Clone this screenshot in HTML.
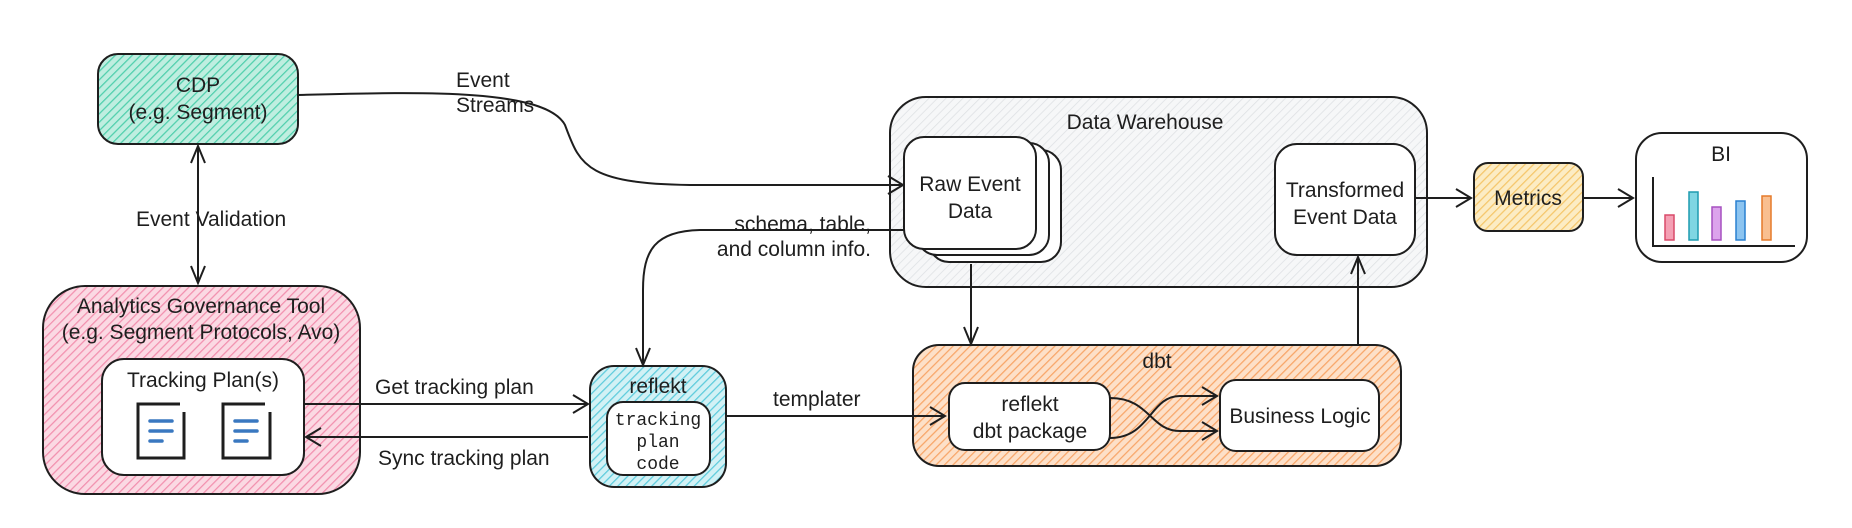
<!DOCTYPE html>
<html><head><meta charset="utf-8"><style>
html,body{margin:0;padding:0;background:#fff;}
svg{display:block;}
text{font-family:"Liberation Sans",sans-serif;font-size:21px;fill:#1e1e1e;}
</style></head><body>
<svg width="1852" height="528" viewBox="0 0 1852 528" xmlns="http://www.w3.org/2000/svg">
<defs>
<pattern id="pTeal" width="6" height="6" patternUnits="userSpaceOnUse" patternTransform="rotate(45)"><rect width="6" height="6" fill="#bfeee0"/><line x1="0" y1="0" x2="0" y2="6" stroke="#4fcfac" stroke-width="2.5"/></pattern>
<pattern id="pPink" width="6" height="6" patternUnits="userSpaceOnUse" patternTransform="rotate(45)"><rect width="6" height="6" fill="#fbd9e3"/><line x1="0" y1="0" x2="0" y2="6" stroke="#f28fae" stroke-width="2.5"/></pattern>
<pattern id="pCyan" width="6" height="6" patternUnits="userSpaceOnUse" patternTransform="rotate(45)"><rect width="6" height="6" fill="#d2f1f5"/><line x1="0" y1="0" x2="0" y2="6" stroke="#5ccbdc" stroke-width="2.5"/></pattern>
<pattern id="pGray" width="6" height="6" patternUnits="userSpaceOnUse" patternTransform="rotate(45)"><rect width="6" height="6" fill="#f6f7f8"/><line x1="0" y1="0" x2="0" y2="6" stroke="#dde0e3" stroke-width="1.5"/></pattern>
<pattern id="pOrange" width="6" height="6" patternUnits="userSpaceOnUse" patternTransform="rotate(45)"><rect width="6" height="6" fill="#fde0c8"/><line x1="0" y1="0" x2="0" y2="6" stroke="#f8a567" stroke-width="2.5"/></pattern>
<pattern id="pYellow" width="6" height="6" patternUnits="userSpaceOnUse" patternTransform="rotate(45)"><rect width="6" height="6" fill="#fcecc4"/><line x1="0" y1="0" x2="0" y2="6" stroke="#f5c66a" stroke-width="2.5"/></pattern>
</defs>
<g stroke="#1e1e1e" stroke-width="2" fill="none">
<rect x="98" y="54" width="200" height="90" rx="20" fill="url(#pTeal)"/>
<rect x="43" y="286" width="317" height="208" rx="42" fill="url(#pPink)"/>
<rect x="102" y="359" width="202" height="116" rx="22" fill="#fff"/>
<rect x="590" y="366" width="136" height="121" rx="24" fill="url(#pCyan)"/>
<rect x="607" y="402" width="103" height="73" rx="16" fill="#fff"/>
<rect x="890" y="97" width="537" height="190" rx="36" fill="url(#pGray)"/>
<rect x="929" y="150" width="132" height="112" rx="20" fill="#fff"/>
<rect x="917" y="143" width="132" height="112" rx="20" fill="#fff"/>
<rect x="904" y="137" width="132" height="112" rx="20" fill="#fff"/>
<rect x="1275" y="144" width="140" height="111" rx="22" fill="#fff"/>
<rect x="1474" y="163" width="109" height="68" rx="14" fill="url(#pYellow)"/>
<rect x="1636" y="133" width="171" height="129" rx="26" fill="#fff"/>
<rect x="913" y="345" width="488" height="121" rx="26" fill="url(#pOrange)"/>
<rect x="949" y="383" width="161" height="67" rx="16" fill="#fff"/>
<rect x="1220" y="380" width="159" height="71" rx="16" fill="#fff"/>
<path d="M298,95 C420,92 545,88 565,125 C580,165 585,185 700,185 L903,185"/>
<path d="M888,176 L903,185 L888,194"/>
<path d="M198,146 L198,283"/>
<path d="M191,163 L198,146 L205,163 M191,266 L198,283 L205,266"/>
<path d="M905,230 L700,230 C655,231 643,250 643,290 L643,365"/>
<path d="M636,348 L643,365 L650,348"/>
<path d="M304,404 L588,404"/><path d="M573,395 L588,404 L573,413"/>
<path d="M588,437 L306,437"/><path d="M321,428 L306,437 L321,446"/>
<path d="M727,416 L945,416"/><path d="M930,407 L945,416 L930,425"/>
<path d="M971,264 L971,344"/><path d="M964,327 L971,344 L978,327"/>
<path d="M1358,345 L1358,257"/><path d="M1351,274 L1358,257 L1365,274"/>
<path d="M1415,198 L1471,198"/><path d="M1456,189 L1471,198 L1456,207"/>
<path d="M1583,198 L1633,198"/><path d="M1618,189 L1633,198 L1618,207"/>
<path d="M1110,398 C1150,398 1150,431 1180,431 L1217,431"/><path d="M1202,422 L1217,431 L1202,440"/>
<path d="M1110,438 C1150,438 1150,396 1180,396 L1217,396"/><path d="M1202,387 L1217,396 L1202,405"/>
<path d="M1653,177 L1653,246 L1795,246"/>
</g>
<g stroke-width="1.5">
<rect x="1665" y="215" width="9" height="25" fill="#f4a0b4" stroke="#d94a6a"/>
<rect x="1689" y="192" width="9" height="48" fill="#7fd6e3" stroke="#1e9cb0"/>
<rect x="1712" y="207" width="9" height="33" fill="#dca3ec" stroke="#a650c0"/>
<rect x="1736" y="201" width="9" height="39" fill="#8cc4f0" stroke="#2a80d0"/>
<rect x="1762" y="196" width="9" height="44" fill="#f9bf90" stroke="#e57a2a"/>
</g>
<g stroke="#1e1e1e" stroke-width="3" fill="none">
<path d="M180,404 L138,404 L138,458 L184,458 L184,412"/>
<path d="M265,404 L223,404 L223,458 L270,458 L270,412"/>
</g>
<g stroke="#3a78c0" stroke-width="3.5" stroke-linecap="round">
<path d="M150,421 L172,421 M150,431 L172,431 M150,441 L162,441"/>
<path d="M235,421 L257,421 M235,431 L257,431 M235,441 L247,441"/>
</g>
<g text-anchor="middle">
<text x="198" y="92">CDP</text>
<text x="198" y="119">(e.g. Segment)</text>
<text x="201" y="313">Analytics Governance Tool</text>
<text x="201" y="339">(e.g. Segment Protocols, Avo)</text>
<text x="203" y="387">Tracking Plan(s)</text>
<text x="658" y="393">reflekt</text>
<text x="658" y="425" style="font-family:'Liberation Mono',monospace;font-size:18px">tracking</text>
<text x="658" y="447" style="font-family:'Liberation Mono',monospace;font-size:18px">plan</text>
<text x="658" y="469" style="font-family:'Liberation Mono',monospace;font-size:18px">code</text>
<text x="1145" y="129">Data Warehouse</text>
<text x="970" y="191">Raw Event</text>
<text x="970" y="218">Data</text>
<text x="1345" y="197">Transformed</text>
<text x="1345" y="224">Event Data</text>
<text x="1528" y="205">Metrics</text>
<text x="1721" y="161">BI</text>
<text x="1157" y="368">dbt</text>
<text x="1030" y="411">reflekt</text>
<text x="1030" y="438">dbt package</text>
<text x="1300" y="423">Business Logic</text>
</g>
<text x="456" y="87">Event</text>
<text x="456" y="112">Streams</text>
<text x="136" y="226">Event Validation</text>
<text x="871" y="231" text-anchor="end">schema, table,</text>
<text x="871" y="256" text-anchor="end">and column info.</text>
<text x="375" y="394">Get tracking plan</text>
<text x="378" y="465">Sync tracking plan</text>
<text x="773" y="406">templater</text>
</svg>
</body></html>
